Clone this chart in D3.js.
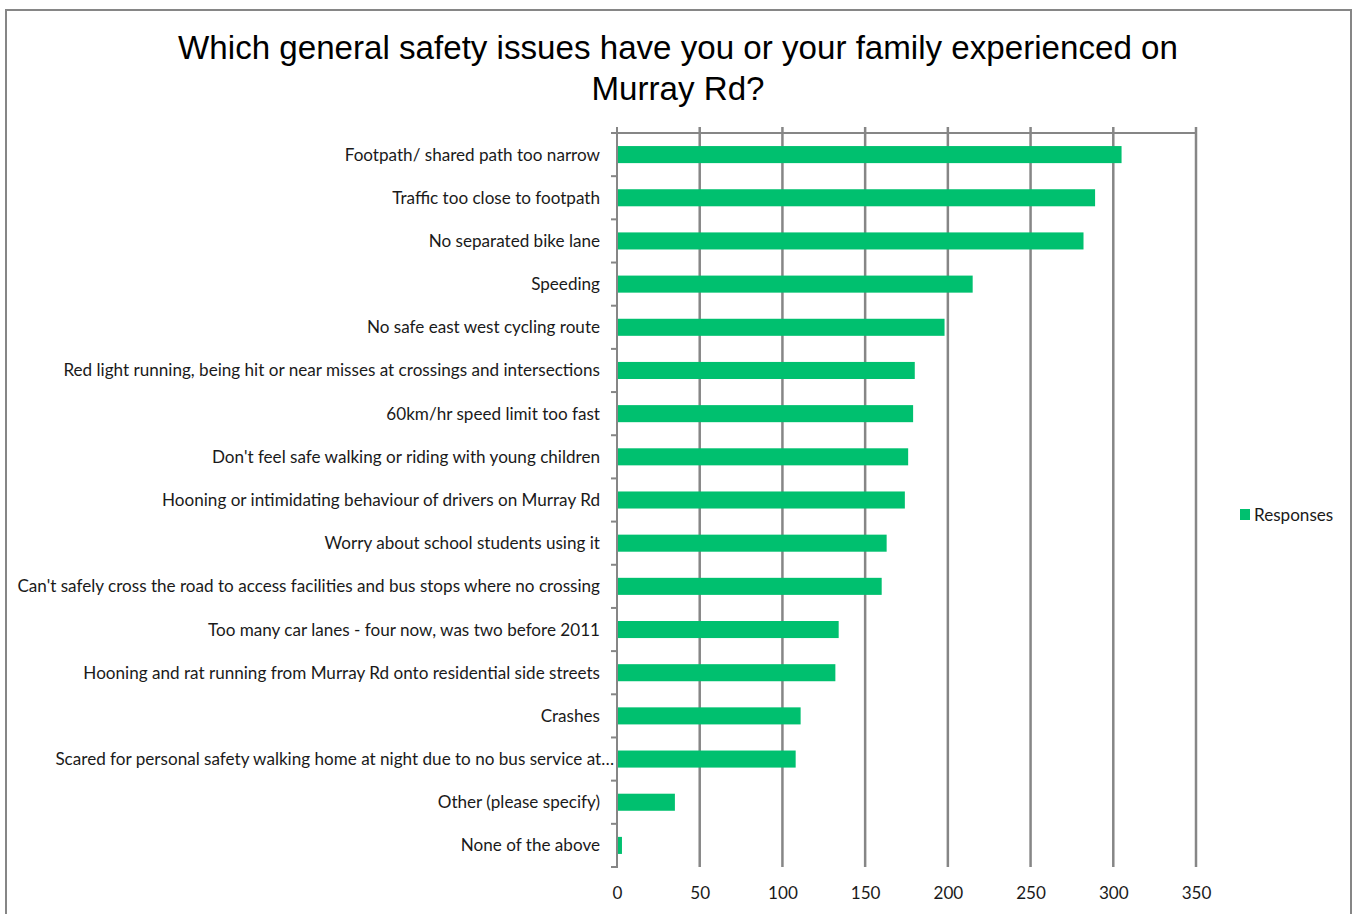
<!DOCTYPE html>
<html>
<head>
<meta charset="utf-8">
<script src="https://cdn.jsdelivr.net/npm/d3@7"></script>
<style>
  html, body { margin: 0; padding: 0; background: #fff; }
  svg { display: block; }
</style>
</head>
<body>
<svg id="chart" width="1354" height="914"></svg>
<script>
const titleLines = ["Which general safety issues have you or your family experienced on", "Murray Rd?"];
const categories = [
  "Footpath/ shared path too narrow",
  "Traffic too close to footpath",
  "No separated bike lane",
  "Speeding",
  "No safe east west cycling route",
  "Red light running, being hit or near misses at crossings and intersections",
  "60km/hr speed limit too fast",
  "Don't feel safe walking or riding with young children",
  "Hooning or intimidating behaviour of drivers on Murray Rd",
  "Worry about school students using it",
  "Can't safely cross the road to access facilities and bus stops where no crossing",
  "Too many car lanes - four now, was two before 2011",
  "Hooning and rat running from Murray Rd onto residential side streets",
  "Crashes",
  "Scared for personal safety walking home at night due to no bus service at\u2026",
  "Other (please specify)",
  "None of the above"
];
const responses = [305, 289, 282, 215, 198, 180, 179, 176, 174, 163, 160, 134, 132, 111, 108, 35, 3];
const xTicks = [0, 50, 100, 150, 200, 250, 300, 350];
const seriesName = "Responses";

const svg = d3.select("#chart");
const grey = "#868686";
const green = "#00C06F";
const labelFont = "Lato, 'Noto Sans', sans-serif";

// frame
svg.append("rect").attr("x", 6).attr("y", 10).attr("width", 1345).attr("height", 920)
  .attr("fill", "#fff").attr("stroke", grey).attr("stroke-width", 2);

const x = d3.scaleLinear().domain([0, 350]).range([617, 1196]);
const y = d3.scaleBand().domain(categories).range([133, 867]).paddingInner(0.605).paddingOuter(0.3025);

// title
const title = svg.append("g");
const t1 = title.append("text").attr("x", 678).attr("y", 59).attr("text-anchor", "middle")
  .attr("font-family", "'Liberation Sans', Arial, sans-serif").attr("font-size", 32).attr("fill", "#000")
  .text(titleLines[0]);
const w1 = t1.node().getComputedTextLength();
const tSize = 32 * 1000 / w1;
t1.attr("font-size", tSize);
title.append("text").attr("x", 678).attr("y", 100).attr("text-anchor", "middle")
  .attr("font-family", "'Liberation Sans', Arial, sans-serif").attr("font-size", tSize).attr("fill", "#000")
  .text(titleLines[1]);

// gridlines (extend above the top axis as tick marks)
svg.append("g").selectAll("line").data(xTicks.filter(d => d > 0)).join("line")
  .attr("x1", d => x(d)).attr("x2", d => x(d)).attr("y1", 127).attr("y2", 867)
  .attr("stroke", grey).attr("stroke-width", 2.5);

// bars
svg.append("g").selectAll("rect").data(categories).join("rect")
  .attr("x", x(0)).attr("y", d => y(d))
  .attr("width", (d, i) => x(responses[i]) - x(0))
  .attr("height", y.bandwidth())
  .attr("fill", green);

// top value axis line with upward ticks
svg.append("line").attr("x1", 611).attr("x2", x(350)).attr("y1", 133).attr("y2", 133)
  .attr("stroke", grey).attr("stroke-width", 2);
svg.append("line").attr("x1", x(0)).attr("x2", x(0)).attr("y1", 127).attr("y2", 868)
  .attr("stroke", grey).attr("stroke-width", 2);

// category tick marks at band boundaries
const bounds = d3.range(categories.length + 1).map(i => 133 + i * (867 - 133) / categories.length);
svg.append("g").selectAll("line").data(bounds).join("line")
  .attr("x1", 611).attr("x2", x(0)).attr("y1", d => d).attr("y2", d => d)
  .attr("stroke", grey).attr("stroke-width", 2);

// category labels
const labels = svg.append("g").selectAll("text").data(categories).join("text")
  .attr("x", d => d.endsWith("\u2026") ? 614 : 600)
  .attr("y", d => y(d) + y.bandwidth() / 2)
  .attr("dy", "0.35em").attr("text-anchor", "end")
  .attr("font-family", labelFont).attr("font-size", 16).attr("fill", "#1a1a1a")
  .text(d => d);
const longest = d3.max(labels.nodes(), n => n.getComputedTextLength());
const lSize = 16 * 583 / longest;
labels.attr("font-size", lSize);

// x tick labels (bottom)
const xAxis = d3.axisBottom(x).tickValues(xTicks).tickSize(0).tickPadding(0);
const gx = svg.append("g").attr("transform", "translate(0,887)").call(xAxis);
gx.select(".domain").remove();
gx.selectAll("text").attr("font-family", labelFont).attr("font-size", lSize).attr("fill", "#1a1a1a");

// legend
svg.append("rect").attr("x", 1240).attr("y", 509).attr("width", 10).attr("height", 11).attr("fill", green);
svg.append("text").attr("x", 1254).attr("y", 515).attr("dy", "0.35em")
  .attr("font-family", labelFont).attr("font-size", lSize).attr("fill", "#1a1a1a").text(seriesName);
</script>
</body>
</html>
